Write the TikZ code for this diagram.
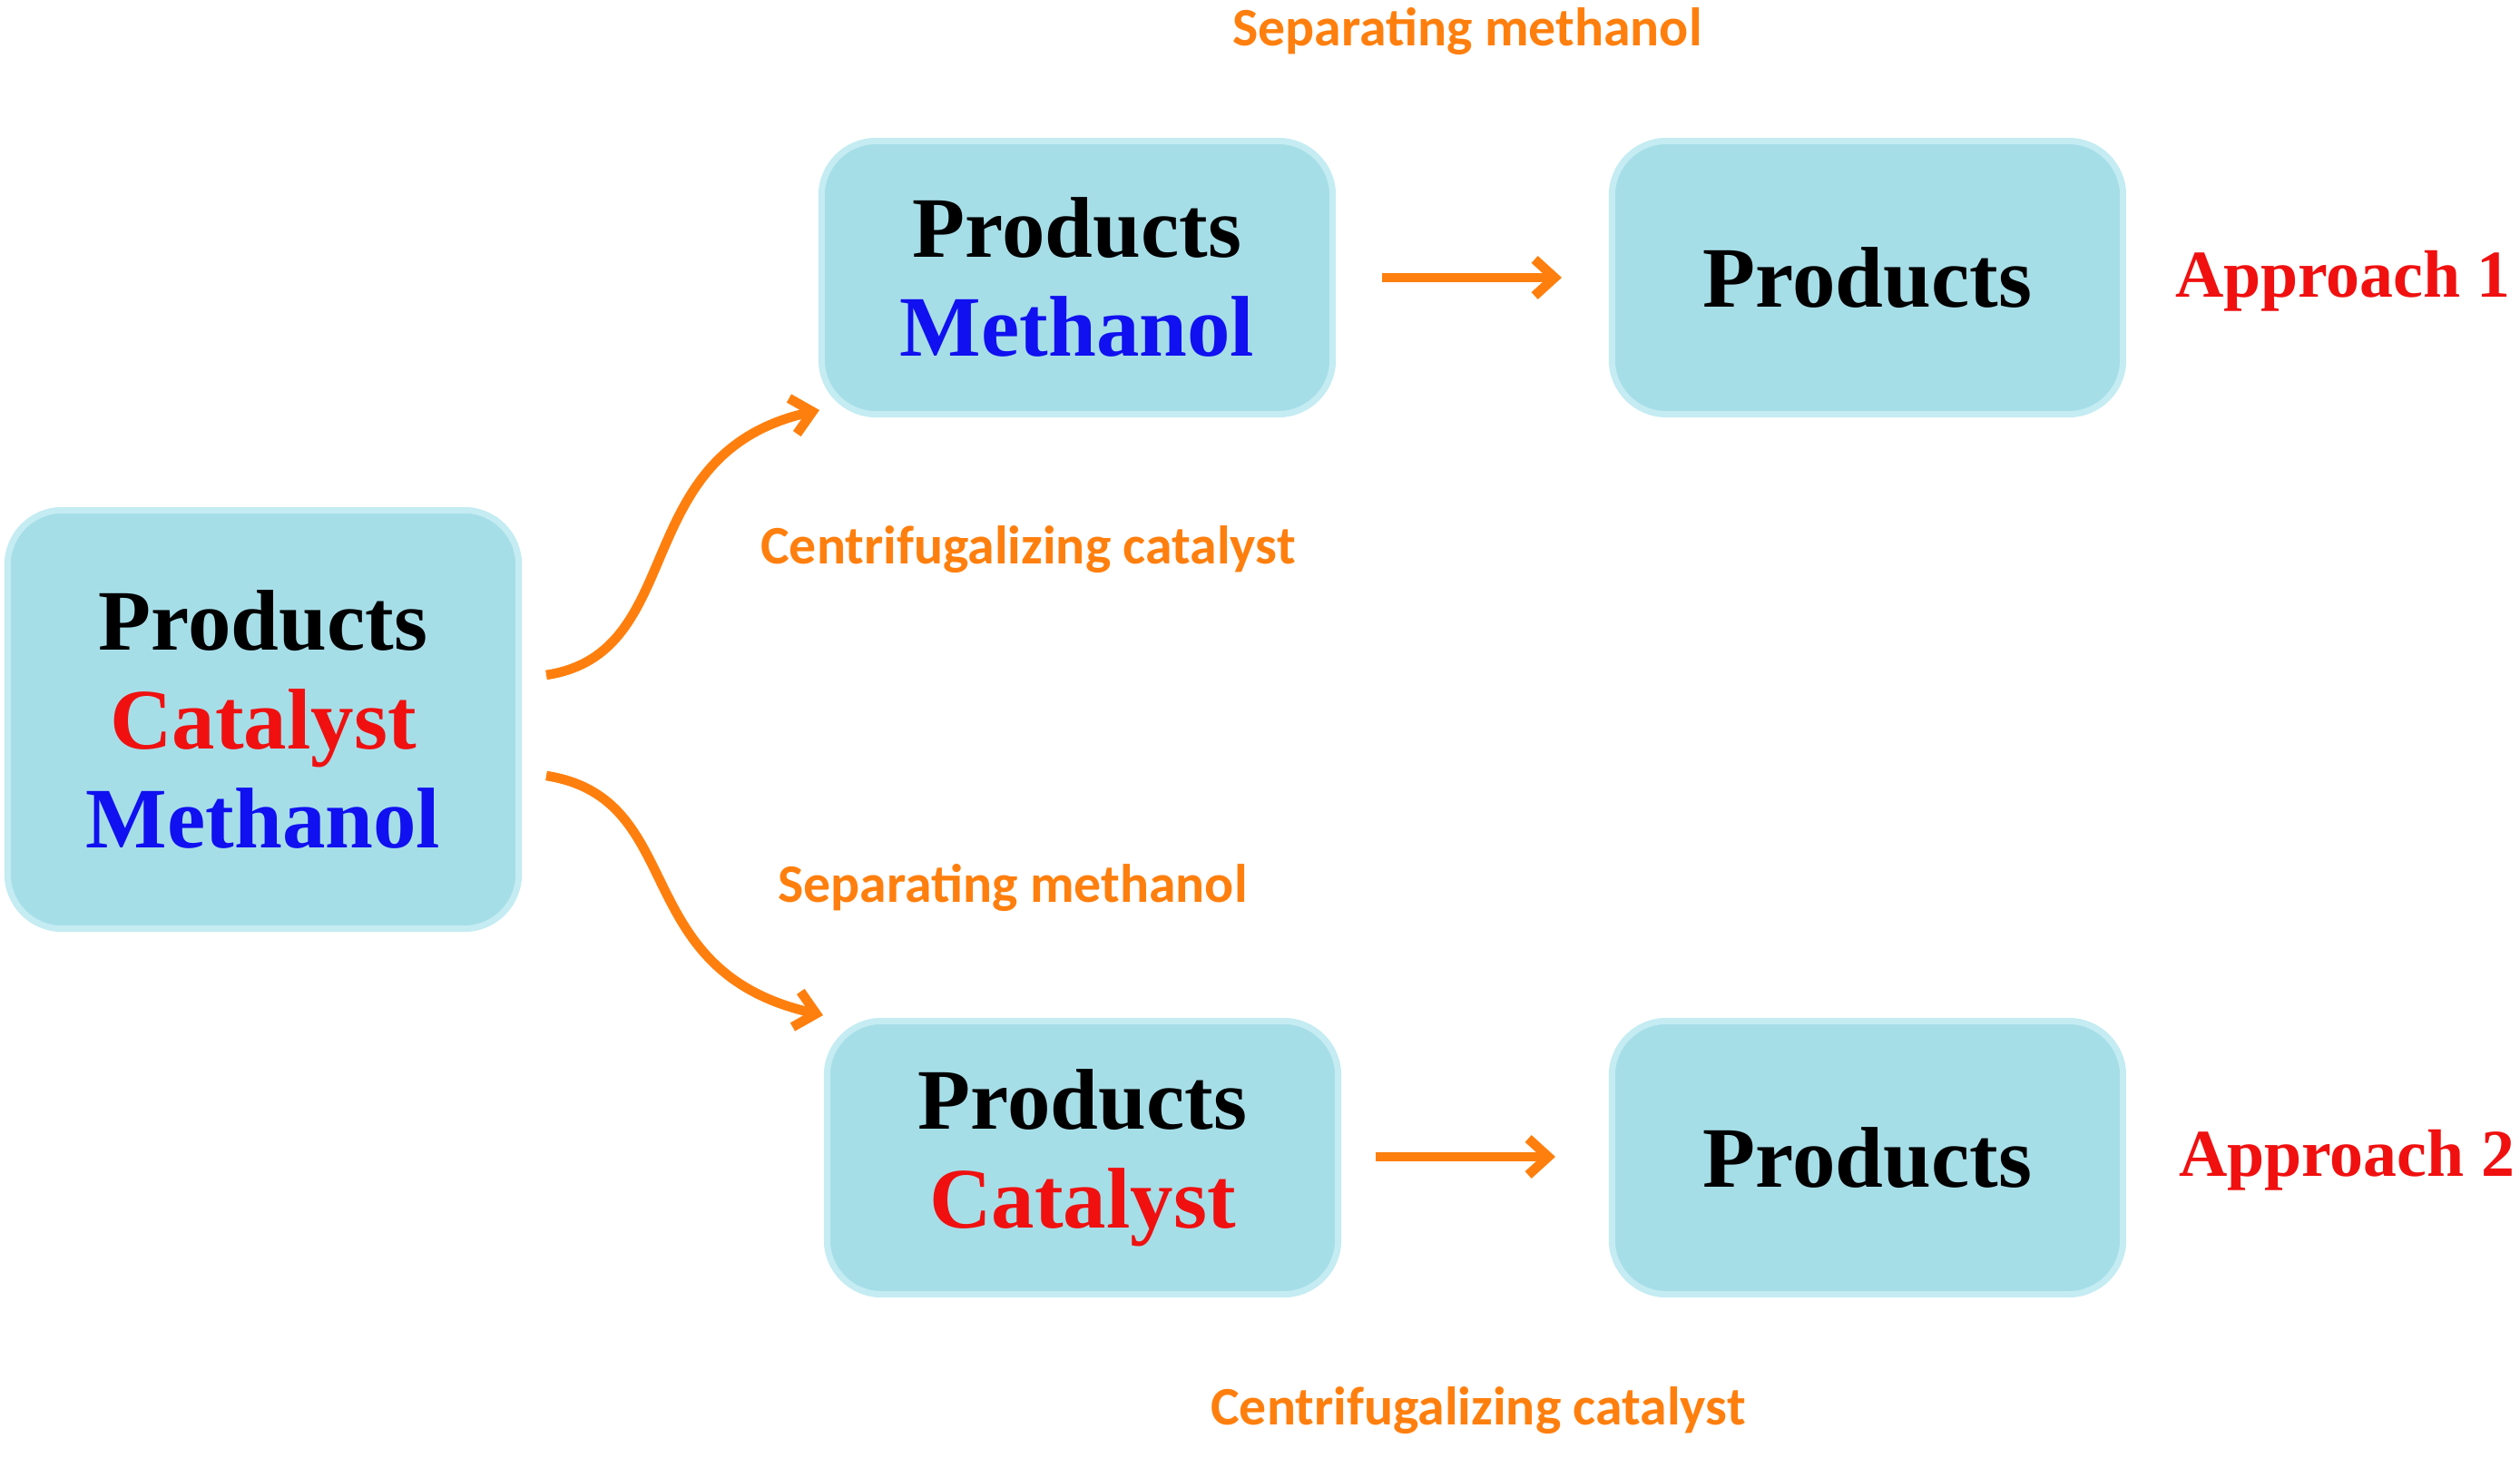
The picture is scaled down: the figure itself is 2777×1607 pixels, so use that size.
\documentclass[tikz,border=0pt]{standalone}
\usepackage{fontspec}
\setmainfont{Liberation Serif}
\newfontfamily\lblfont{Carlito}
\usetikzlibrary{arrows.meta}
\definecolor{boxfill}{HTML}{A6DEE8}
\definecolor{boxline}{HTML}{C4ECF2}
\definecolor{arr}{HTML}{FF7F0E}
\definecolor{myblue}{HTML}{1010F0}
\definecolor{myred}{HTML}{F01010}
\tikzset{
  box/.style={draw=boxline, line width=2pt, fill=boxfill, rounded corners=0.6cm,
    minimum width=5.63cm, align=center, font=\bfseries\fontsize{27}{31}\selectfont},
  lbl/.style={text=arr, font=\lblfont\bfseries\fontsize{17}{20}\selectfont},
  appr/.style={text=myred, font=\bfseries\fontsize{21}{24}\selectfont},
  flow/.style={draw=arr, line width=3pt, -{Straight Barb[length=0.22cm,width=0.4cm]}}
}
\begin{document}
\begin{tikzpicture}[x=0.01cm, y=-0.01cm]
\useasboundingbox (0,0) rectangle (2777,1607);
\node[box, minimum height=4.61cm] (src) at (290,793)
  {Products\\\textcolor{myred}{Catalyst}\\\textcolor{myblue}{Methanol}};
\node[box, minimum height=3.01cm] (m1) at (1187,306)
  {Products\\\textcolor{myblue}{Methanol}};
\node[box, minimum height=3.01cm] (p1) at (2058,306) {Products};
\node[box, minimum height=3.01cm] (m2) at (1193,1276)
  {Products\\\textcolor{myred}{Catalyst}};
\node[box, minimum height=3.01cm] (p2) at (2058,1276) {Products};

\node[lbl] (s1) at (1617,35) {Separating methanol};
\node[lbl] (c1) at (1133,606) {Centrifugalizing catalyst};
\node[lbl] (s2) at (1116,979) {Separating methanol};
\node[lbl] (c2) at (1629,1555) {Centrifugalizing catalyst};
\node[appr] (a1) at (2582,310) {Approach 1};
\node[appr] (a2) at (2586,1279) {Approach 2};

\coordinate (t1s) at (1523,306); \coordinate (t1e) at (1721,306);
\coordinate (t2s) at (1516,1275); \coordinate (t2e) at (1714,1275);
\coordinate (u1s) at (602,744); \coordinate (u1e) at (903,452);
\coordinate (u2s) at (602,855); \coordinate (u2e) at (907,1119);
\draw[flow] (t1s) -- (t1e);
\draw[flow] (t2s) -- (t2e);
\draw[flow] (u1s) .. controls (760,720) and (690,500) .. (u1e);
\draw[flow] (u2s) .. controls (760,880) and (690,1070) .. (u2e);
\end{tikzpicture}
\end{document}
